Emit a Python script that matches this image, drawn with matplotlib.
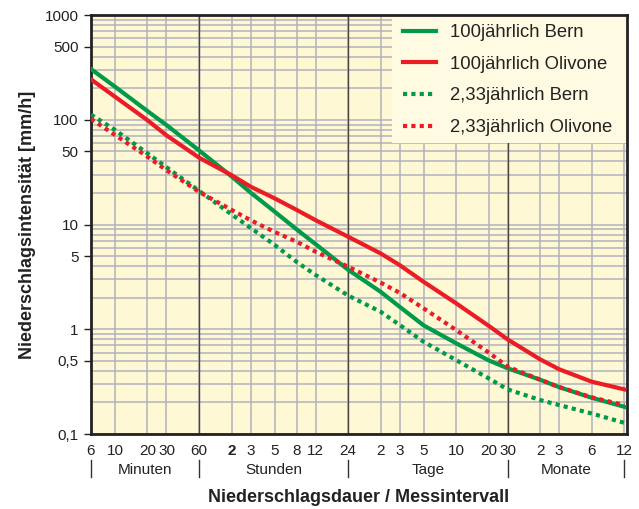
import matplotlib
matplotlib.use('Agg')
import matplotlib.pyplot as plt
import matplotlib.transforms as mtransforms
from matplotlib.patches import Rectangle
from matplotlib.ticker import FixedLocator, NullFormatter

plt.rcParams['font.family'] = ['Liberation Sans', 'DejaVu Sans']

# Niederschlagsdauer in Minuten
dauer = [6, 10, 20, 30, 60, 120, 180, 300, 480, 720, 1440, 2880, 4320, 7200,
         14400, 28800, 43200, 86400, 129600, 259200, 518400]

# Intensitaet in mm/h
bern_100 = [305, 207, 121, 89, 51, 28.8, 20.2, 13.3, 9.0, 6.5, 3.7, 2.28, 1.64,
            1.09, 0.735, 0.505, 0.424, 0.33, 0.28, 0.222, 0.182]
olivone_100 = [243, 166, 99, 71, 43.5, 29.6, 23, 17.8, 13.8, 11.0, 7.65, 5.3, 4.1,
               2.84, 1.77, 1.08, 0.80, 0.516, 0.415, 0.316, 0.267]
bern_233 = [112, 80, 47.8, 35.2, 21, 12.5, 9.3, 6.4, 4.4, 3.3, 2.1, 1.47, 1.1,
            0.76, 0.508, 0.34, 0.267, 0.211, 0.189, 0.157, 0.128]
olivone_233 = [102, 71.5, 44.4, 33, 20.5, 13.8, 11.0, 8.5, 6.86, 5.5, 3.96, 2.79, 2.23,
               1.585, 0.984, 0.60, 0.44, 0.33, 0.281, 0.224, 0.189]

x_ticks = dauer
x_labels = ['6', '10', '20', '30', '60', '2', '3', '5', '8', '12', '24',
            '2', '3', '5', '10', '20', '30', '2', '3', '6', '12']
grenzen = [6, 60, 1440, 43200, 518400]
gruppen = ['Minuten', 'Stunden', 'Tage', 'Monate']

y_ticks = [0.1, 0.5, 1, 5, 10, 50, 100, 500, 1000]
y_labels = ['0,1', '0,5', '1', '5', '10', '50', '100', '500', '1000']

gruen = '#009a4a'
rot = '#ec1c24'
gitter = '#b1b1bd'

fig = plt.figure(figsize=(6.39, 5.09), dpi=100)
ax = fig.add_axes([0.1424, 0.1473, 0.8388, 0.8232])
ax.set_facecolor('#fff8d4')
ax.set_xscale('log')
ax.set_yscale('log')
ax.set_xlim(6, 5.5e5)
ax.set_ylim(0.1, 1000)

# Gitter
ax.xaxis.set_major_locator(FixedLocator(x_ticks))
ax.xaxis.set_minor_locator(FixedLocator([]))
ax.set_xticklabels(x_labels)
ax.yaxis.set_major_locator(FixedLocator(y_ticks))
ax.set_yticklabels(y_labels)
y_minor = [m * 10.0 ** e for e in range(-1, 3) for m in range(1, 10)]
ax.yaxis.set_minor_locator(FixedLocator(y_minor))
ax.yaxis.set_minor_formatter(NullFormatter())
ax.grid(True, which='major', axis='x', color=gitter, lw=1.1)
ax.grid(True, which='both', axis='y', color=gitter, lw=1.1)
for g in grenzen[1:-1]:
    ax.axvline(g, color='#4a4540', lw=1.0, zorder=1.5)
ax.set_axisbelow(True)

ax.tick_params(axis='x', length=0, pad=7, labelsize=11, colors='#222222')
ax.tick_params(axis='y', which='major', length=5, width=1, pad=4, labelsize=11,
               colors='#222222')
ax.tick_params(axis='y', which='minor', length=0)
ax.get_xticklabels()[5].set_fontweight('bold')

for s in ax.spines.values():
    s.set_linewidth(2)
    s.set_color('#222222')

# Kurven
ax.plot(dauer, bern_100, color=gruen, lw=3, label='100jährlich Bern', zorder=3)
ax.plot(dauer, olivone_100, color=rot, lw=3, label='100jährlich Olivone', zorder=3)
ax.plot(dauer, bern_233, color=gruen, lw=3, ls=(0, (1, 1)),
        label='2,33jährlich Bern', zorder=3)
ax.plot(dauer, olivone_233, color=rot, lw=3, ls=(0, (1, 1)),
        label='2,33jährlich Olivone', zorder=3)

# Legende mit hellem Hintergrund bis zur Ecke
ax.add_patch(Rectangle((0.5616, 0.6945), 0.4384, 0.3055, transform=ax.transAxes,
                       facecolor='#fffbe2', edgecolor='none', zorder=2.5))
leg = ax.legend(loc='upper left', bbox_to_anchor=(0.582, 0.978), borderaxespad=0,
                borderpad=0, fontsize=13.3, frameon=False, handlelength=1.8,
                handletextpad=0.75, labelspacing=0.79)
leg.set_zorder(4)
for t in leg.get_texts():
    t.set_color('#222222')

# Gruppen unter der x-Achse
trans = mtransforms.blended_transform_factory(ax.transData, ax.transAxes)
for g in grenzen:
    ax.plot([g, g], [-0.062, -0.102], color='#333333', lw=1, transform=trans,
            clip_on=False)
for i, name in enumerate(gruppen):
    mitte = (grenzen[i] * grenzen[i + 1]) ** 0.5
    ax.text(mitte, -0.087, name, transform=trans, ha='center', va='center',
            fontsize=11, color='#222222')

ax.set_xlabel('Niederschlagsdauer / Messintervall', fontsize=13, fontweight='bold',
              color='#222222')
ax.xaxis.set_label_coords(0.5, -0.132)
ax.set_ylabel('Niederschlagsintensität [mm/h]', fontsize=13, fontweight='bold',
              color='#222222')
ax.yaxis.set_label_coords(-0.102, 0.5)

fig.savefig('out.png', dpi=100, facecolor='white')
